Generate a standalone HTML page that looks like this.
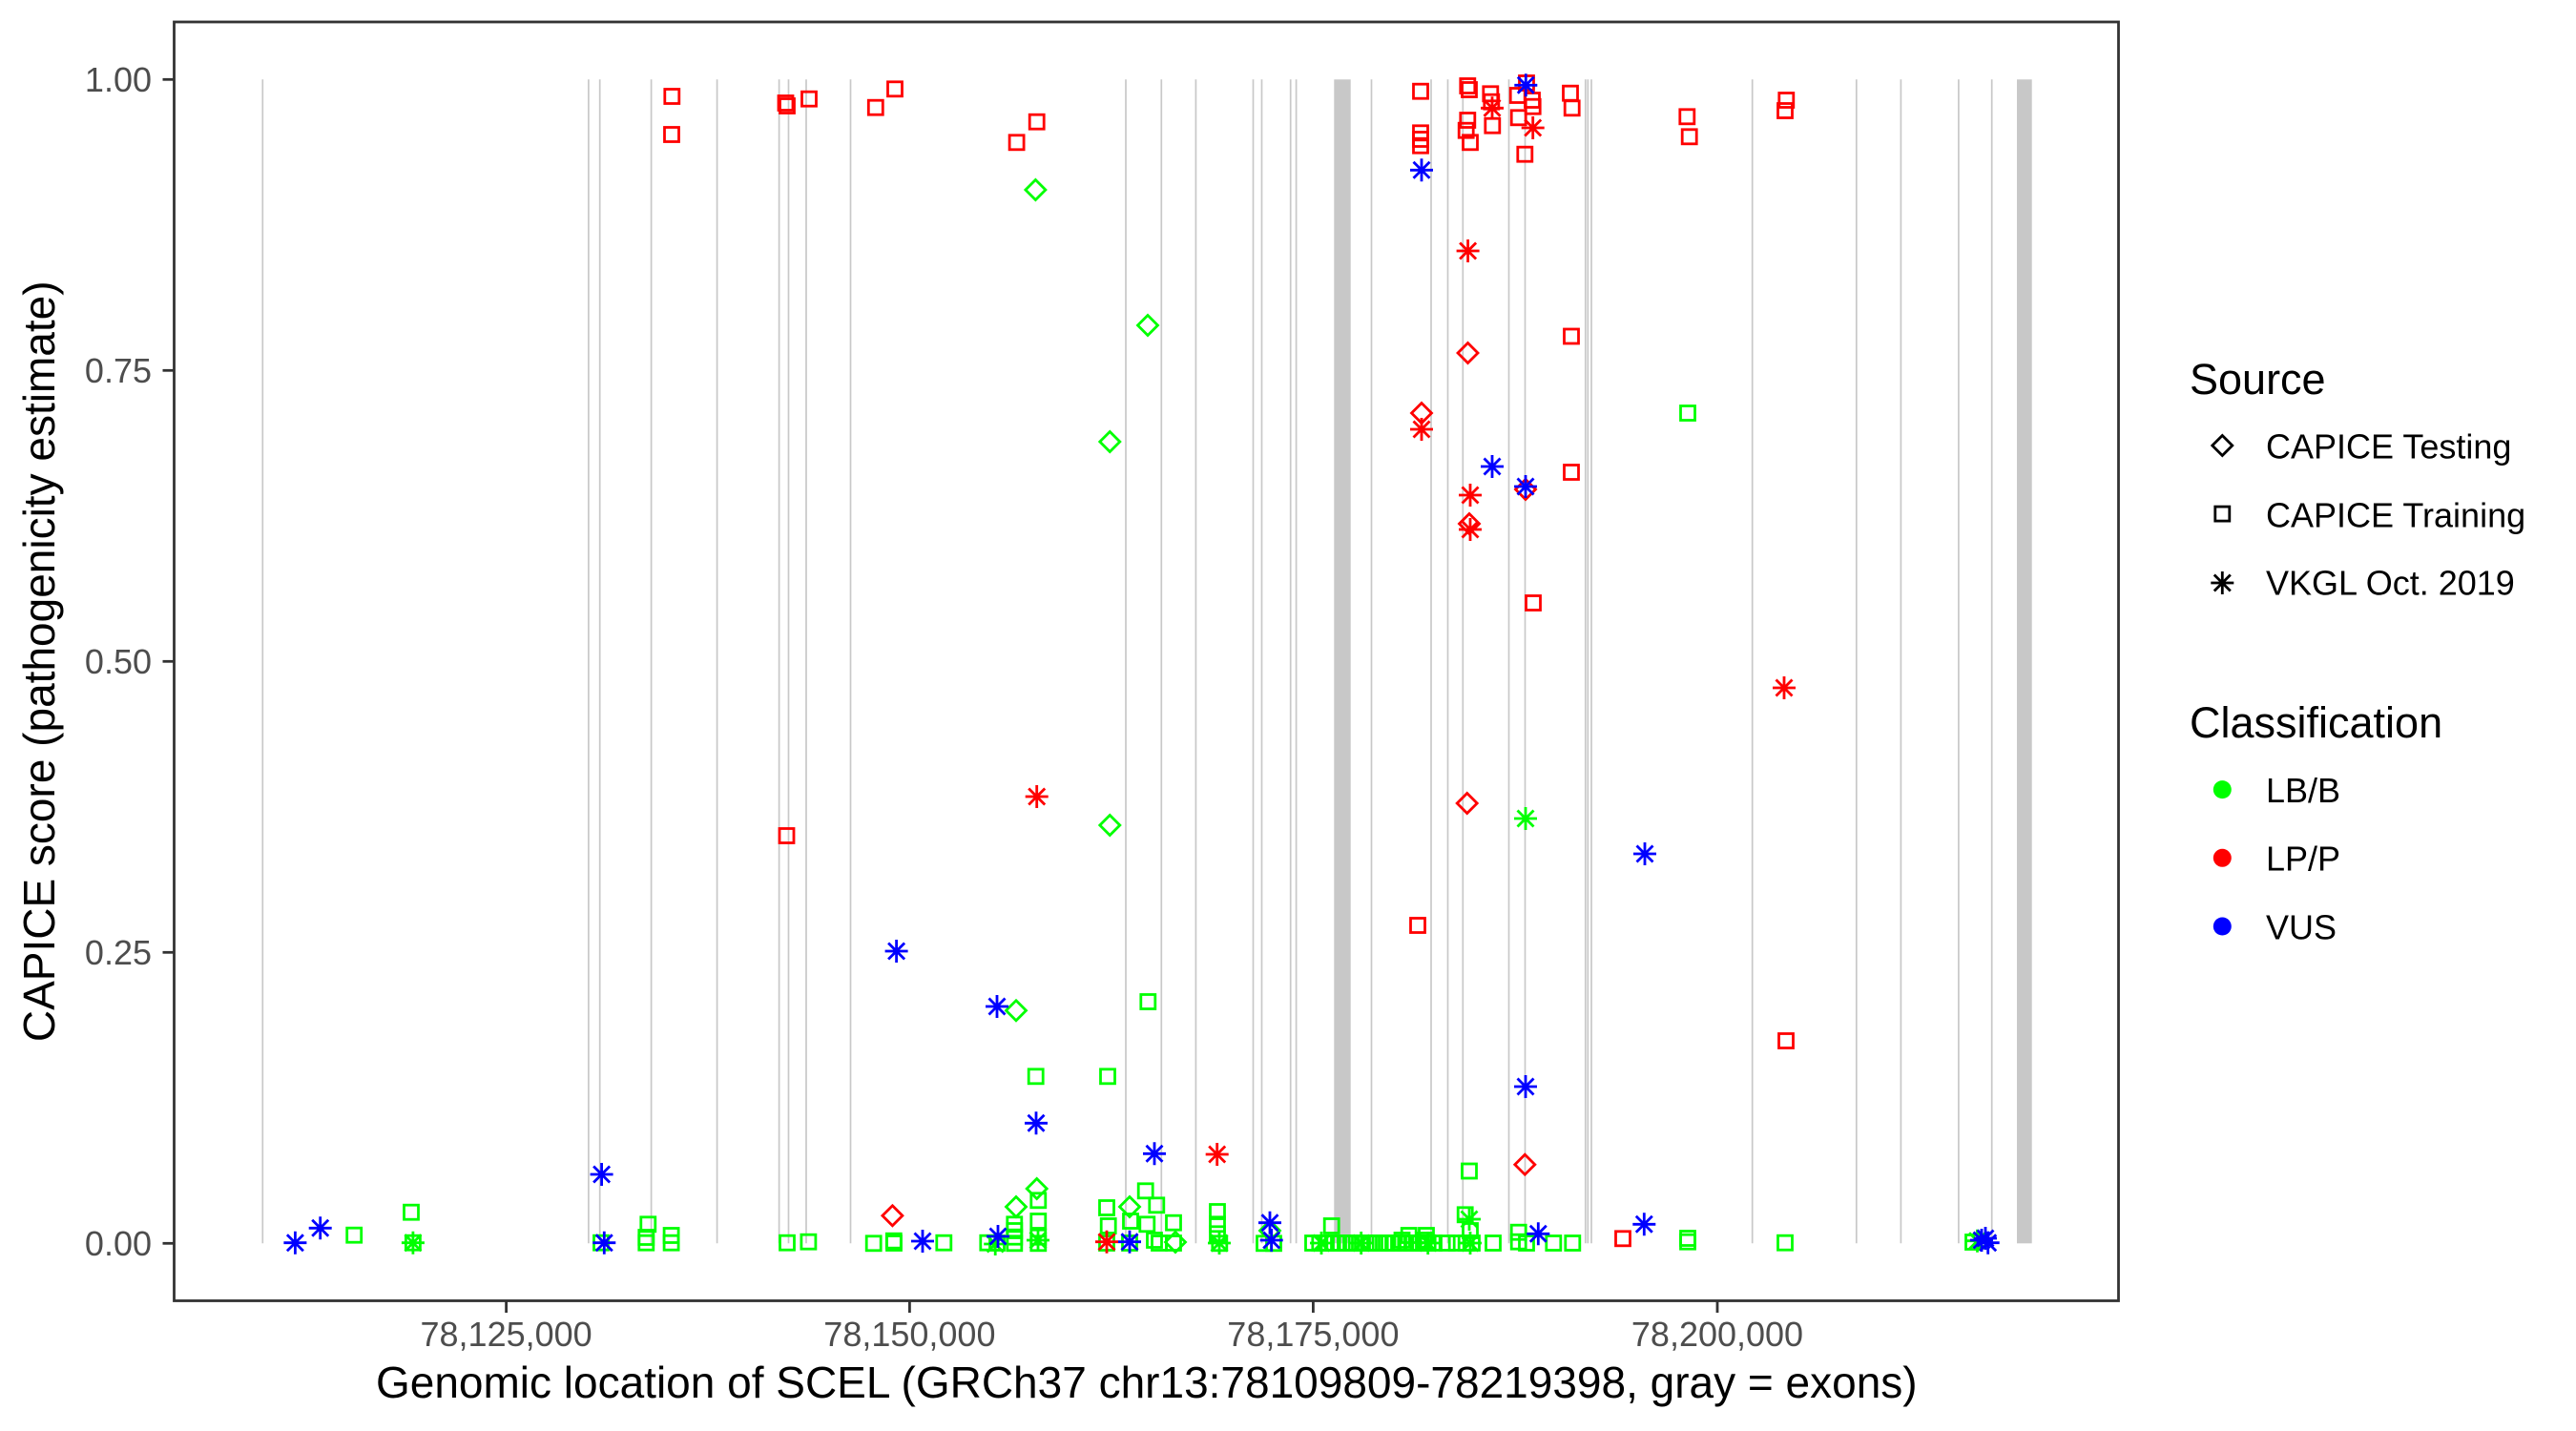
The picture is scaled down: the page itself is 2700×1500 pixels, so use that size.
<!DOCTYPE html>
<html><head><meta charset="utf-8">
<style>
html,body{margin:0;padding:0;background:#fff;}
svg{display:block;}
text{font-family:"Liberation Sans",Arial,sans-serif;}
use{fill:none;stroke-width:2.8;}
.g{stroke:#00ff00;}
.r{stroke:#ff0000;}
.b{stroke:#0000ff;}
.k{stroke:#000;}
.ex{stroke:#c8c8c8;stroke-width:1.7;}
</style></head>
<body>
<svg width="2700" height="1500" viewBox="0 0 2700 1500" xmlns="http://www.w3.org/2000/svg">
<defs>
<path id="A" d="M-12 0H12M0-12V12M-8.5-8.5L8.5 8.5M-8.5 8.5L8.5-8.5"/>
<path id="D" d="M0-10.5L10.5 0 0 10.5-10.5 0Z"/>
<rect id="S" x="-7.5" y="-7.5" width="15" height="15"/>
</defs>
<rect x="0" y="0" width="2700" height="1500" fill="#fff"/>
<g class="ex">
<line x1="275.3" y1="83.3" x2="275.3" y2="1303.3"/>
<line x1="616.9" y1="83.3" x2="616.9" y2="1303.3"/>
<line x1="628.7" y1="83.3" x2="628.7" y2="1303.3"/>
<line x1="682.6" y1="83.3" x2="682.6" y2="1303.3"/>
<line x1="751.6" y1="83.3" x2="751.6" y2="1303.3"/>
<line x1="816.6" y1="83.3" x2="816.6" y2="1303.3"/>
<line x1="826.5" y1="83.3" x2="826.5" y2="1303.3"/>
<line x1="845" y1="83.3" x2="845" y2="1303.3"/>
<line x1="891.5" y1="83.3" x2="891.5" y2="1303.3"/>
<line x1="1180" y1="83.3" x2="1180" y2="1303.3"/>
<line x1="1217.3" y1="83.3" x2="1217.3" y2="1303.3"/>
<line x1="1253.4" y1="83.3" x2="1253.4" y2="1303.3"/>
<line x1="1313.5" y1="83.3" x2="1313.5" y2="1303.3"/>
<line x1="1322.5" y1="83.3" x2="1322.5" y2="1303.3"/>
<line x1="1352.7" y1="83.3" x2="1352.7" y2="1303.3"/>
<line x1="1358.6" y1="83.3" x2="1358.6" y2="1303.3"/>
<line x1="1437.5" y1="83.3" x2="1437.5" y2="1303.3"/>
<line x1="1500" y1="83.3" x2="1500" y2="1303.3"/>
<line x1="1517.5" y1="83.3" x2="1517.5" y2="1303.3"/>
<line x1="1533.3" y1="83.3" x2="1533.3" y2="1303.3"/>
<line x1="1581.5" y1="83.3" x2="1581.5" y2="1303.3"/>
<line x1="1598.5" y1="83.3" x2="1598.5" y2="1303.3"/>
<line x1="1661.8" y1="83.3" x2="1661.8" y2="1303.3"/>
<line x1="1664.3" y1="83.3" x2="1664.3" y2="1303.3"/>
<line x1="1668" y1="83.3" x2="1668" y2="1303.3"/>
<line x1="1836.7" y1="83.3" x2="1836.7" y2="1303.3"/>
<line x1="1945.8" y1="83.3" x2="1945.8" y2="1303.3"/>
<line x1="1992.4" y1="83.3" x2="1992.4" y2="1303.3"/>
<line x1="2052.9" y1="83.3" x2="2052.9" y2="1303.3"/>
<line x1="2087.7" y1="83.3" x2="2087.7" y2="1303.3"/>
</g>
<rect x="1398.3" y="83.3" width="17.4" height="1220" fill="#c8c8c8"/>
<rect x="2114" y="83.3" width="15.7" height="1220" fill="#c8c8c8"/>
<g>
<use href="#S" class="g" x="371.2" y="1294.7"/>
<use href="#S" class="g" x="431" y="1270.7"/>
<use href="#S" class="g" x="432.9" y="1302.7"/>
<use href="#S" class="g" x="630" y="1302.7"/>
<use href="#S" class="g" x="679.3" y="1283.3"/>
<use href="#S" class="g" x="677.3" y="1297"/>
<use href="#S" class="g" x="677.3" y="1302.7"/>
<use href="#S" class="g" x="703.6" y="1295"/>
<use href="#S" class="g" x="703.6" y="1302.7"/>
<use href="#S" class="g" x="825" y="1302.7"/>
<use href="#S" class="g" x="847.4" y="1301.7"/>
<use href="#S" class="g" x="915.7" y="1303.3"/>
<use href="#S" class="g" x="936.8" y="1300.7"/>
<use href="#S" class="g" x="937" y="1303"/>
<use href="#S" class="g" x="989.3" y="1302.7"/>
<use href="#S" class="g" x="1035.3" y="1302.7"/>
<use href="#S" class="g" x="1045" y="1303"/>
<use href="#S" class="g" x="1063.3" y="1283.3"/>
<use href="#S" class="g" x="1063.3" y="1290"/>
<use href="#S" class="g" x="1063.3" y="1296.7"/>
<use href="#S" class="g" x="1063.3" y="1303.3"/>
<use href="#S" class="g" x="1088.3" y="1258.3"/>
<use href="#S" class="g" x="1088.3" y="1280"/>
<use href="#S" class="g" x="1088.3" y="1296.7"/>
<use href="#S" class="g" x="1088.3" y="1303.3"/>
<use href="#S" class="g" x="1085.7" y="1128.3"/>
<use href="#S" class="g" x="1161" y="1128.3"/>
<use href="#S" class="g" x="1203.3" y="1050"/>
<use href="#S" class="g" x="1160" y="1266"/>
<use href="#S" class="g" x="1161.7" y="1285"/>
<use href="#S" class="g" x="1160" y="1303"/>
<use href="#S" class="g" x="1185" y="1280"/>
<use href="#S" class="g" x="1184" y="1303"/>
<use href="#S" class="g" x="1200.7" y="1248.3"/>
<use href="#S" class="g" x="1212.3" y="1263.3"/>
<use href="#S" class="g" x="1202.3" y="1283.3"/>
<use href="#S" class="g" x="1230" y="1281.7"/>
<use href="#S" class="g" x="1210" y="1300"/>
<use href="#S" class="g" x="1215" y="1303"/>
<use href="#S" class="g" x="1230" y="1303"/>
<use href="#S" class="g" x="1276" y="1270"/>
<use href="#S" class="g" x="1276" y="1283.3"/>
<use href="#S" class="g" x="1276" y="1293.3"/>
<use href="#S" class="g" x="1278.3" y="1303.3"/>
<use href="#S" class="g" x="1325" y="1303.3"/>
<use href="#S" class="g" x="1335" y="1303.3"/>
<use href="#S" class="g" x="1395.7" y="1285"/>
<use href="#S" class="g" x="1376" y="1303"/>
<use href="#S" class="g" x="1383.3" y="1303"/>
<use href="#S" class="g" x="1390" y="1303"/>
<use href="#S" class="g" x="1396.7" y="1303"/>
<use href="#S" class="g" x="1403" y="1303"/>
<use href="#S" class="g" x="1410" y="1303"/>
<use href="#S" class="g" x="1416" y="1303"/>
<use href="#S" class="g" x="1421.7" y="1303"/>
<use href="#S" class="g" x="1428" y="1303"/>
<use href="#S" class="g" x="1435" y="1303"/>
<use href="#S" class="g" x="1441" y="1303"/>
<use href="#S" class="g" x="1446.7" y="1303"/>
<use href="#S" class="g" x="1453" y="1303"/>
<use href="#S" class="g" x="1460" y="1303"/>
<use href="#S" class="g" x="1466" y="1303"/>
<use href="#S" class="g" x="1473.3" y="1303"/>
<use href="#S" class="g" x="1480" y="1303"/>
<use href="#S" class="g" x="1486.7" y="1303"/>
<use href="#S" class="g" x="1492" y="1303"/>
<use href="#S" class="g" x="1496.7" y="1303"/>
<use href="#S" class="g" x="1503" y="1303"/>
<use href="#S" class="g" x="1516.7" y="1303"/>
<use href="#S" class="g" x="1526.7" y="1303"/>
<use href="#S" class="g" x="1536.7" y="1303"/>
<use href="#S" class="g" x="1543" y="1303"/>
<use href="#S" class="g" x="1565" y="1303"/>
<use href="#S" class="g" x="1591.7" y="1301.7"/>
<use href="#S" class="g" x="1600" y="1303"/>
<use href="#S" class="g" x="1628.3" y="1303"/>
<use href="#S" class="g" x="1648.3" y="1303"/>
<use href="#S" class="g" x="1476.7" y="1295"/>
<use href="#S" class="g" x="1495" y="1295"/>
<use href="#S" class="g" x="1469.5" y="1300"/>
<use href="#S" class="g" x="1492.5" y="1300"/>
<use href="#S" class="g" x="1540" y="1227.5"/>
<use href="#S" class="g" x="1535.7" y="1273.3"/>
<use href="#S" class="g" x="1541" y="1290"/>
<use href="#S" class="g" x="1591.7" y="1291.7"/>
<use href="#S" class="g" x="1769" y="1298"/>
<use href="#S" class="g" x="1769" y="1301.7"/>
<use href="#S" class="g" x="1871" y="1302.7"/>
<use href="#S" class="g" x="1769" y="433"/>
<use href="#S" class="g" x="2068" y="1302"/>
</g>
<g>
<use href="#D" class="g" x="1085.4" y="199"/>
<use href="#D" class="g" x="1203" y="341"/>
<use href="#D" class="g" x="1163.3" y="463"/>
<use href="#D" class="g" x="1163.3" y="865"/>
<use href="#D" class="g" x="1065" y="1059.3"/>
<use href="#D" class="g" x="1065" y="1265"/>
<use href="#D" class="g" x="1086.7" y="1246"/>
<use href="#D" class="g" x="1184" y="1265"/>
<use href="#D" class="g" x="1331" y="1290"/>
<use href="#D" class="g" x="1232" y="1302"/>
</g>
<g>
<use href="#A" class="g" x="432.9" y="1302.7"/>
<use href="#A" class="g" x="1043.2" y="1304"/>
<use href="#A" class="g" x="1088" y="1300"/>
<use href="#A" class="g" x="1278" y="1303"/>
<use href="#A" class="g" x="1385" y="1303"/>
<use href="#A" class="g" x="1426.7" y="1303"/>
<use href="#A" class="g" x="1496.7" y="1303"/>
<use href="#A" class="g" x="1541" y="1303"/>
<use href="#A" class="g" x="1540" y="1278"/>
<use href="#A" class="g" x="1599" y="858"/>
<use href="#A" class="g" x="2072.5" y="1300.7"/>
</g>
<g>
<use href="#S" class="r" x="704.3" y="101"/>
<use href="#S" class="r" x="704" y="141"/>
<use href="#S" class="r" x="823.5" y="108"/>
<use href="#S" class="r" x="825" y="111"/>
<use href="#S" class="r" x="848" y="103.7"/>
<use href="#S" class="r" x="917.8" y="112.7"/>
<use href="#S" class="r" x="938" y="93.3"/>
<use href="#S" class="r" x="1065.6" y="149.3"/>
<use href="#S" class="r" x="1086.7" y="127.7"/>
<use href="#S" class="r" x="824.5" y="876"/>
<use href="#S" class="r" x="1489" y="95.7"/>
<use href="#S" class="r" x="1489" y="139.3"/>
<use href="#S" class="r" x="1489" y="146"/>
<use href="#S" class="r" x="1489" y="152.7"/>
<use href="#S" class="r" x="1538.3" y="90"/>
<use href="#S" class="r" x="1540" y="94"/>
<use href="#S" class="r" x="1538.3" y="126"/>
<use href="#S" class="r" x="1536.7" y="136.7"/>
<use href="#S" class="r" x="1541" y="149.3"/>
<use href="#S" class="r" x="1562.3" y="98.3"/>
<use href="#S" class="r" x="1563.3" y="106.7"/>
<use href="#S" class="r" x="1564.3" y="131.7"/>
<use href="#S" class="r" x="1590.7" y="100"/>
<use href="#S" class="r" x="1591.7" y="123.3"/>
<use href="#S" class="r" x="1600" y="87"/>
<use href="#S" class="r" x="1606" y="105"/>
<use href="#S" class="r" x="1606.7" y="111.7"/>
<use href="#S" class="r" x="1598.3" y="161.7"/>
<use href="#S" class="r" x="1646" y="97.7"/>
<use href="#S" class="r" x="1647.7" y="113.3"/>
<use href="#S" class="r" x="1768.3" y="122.3"/>
<use href="#S" class="r" x="1770.7" y="143.3"/>
<use href="#S" class="r" x="1872.3" y="105"/>
<use href="#S" class="r" x="1871" y="116"/>
<use href="#S" class="r" x="1647" y="352.5"/>
<use href="#S" class="r" x="1647" y="495"/>
<use href="#S" class="r" x="1607" y="632"/>
<use href="#S" class="r" x="1486" y="970"/>
<use href="#S" class="r" x="1872" y="1091"/>
<use href="#S" class="r" x="1701" y="1298.3"/>
</g>
<g>
<use href="#D" class="r" x="935.4" y="1274.3"/>
<use href="#D" class="r" x="1490" y="433"/>
<use href="#D" class="r" x="1538.5" y="370"/>
<use href="#D" class="r" x="1540" y="549"/>
<use href="#D" class="r" x="1537.7" y="842"/>
<use href="#D" class="r" x="1599" y="513"/>
<use href="#D" class="r" x="1598.3" y="1220.7"/>
</g>
<g>
<use href="#A" class="r" x="1564" y="113.3"/>
<use href="#A" class="r" x="1606.7" y="134"/>
<use href="#A" class="r" x="1538.6" y="263"/>
<use href="#A" class="r" x="1490" y="450"/>
<use href="#A" class="r" x="1541" y="519"/>
<use href="#A" class="r" x="1541" y="555"/>
<use href="#A" class="r" x="1086.7" y="835"/>
<use href="#A" class="r" x="1870" y="721"/>
<use href="#A" class="r" x="1160" y="1301.7"/>
<use href="#A" class="r" x="1275.7" y="1210"/>
</g>
<g>
<use href="#A" class="b" x="1490" y="178.3"/>
<use href="#A" class="b" x="1599.3" y="89.3"/>
<use href="#A" class="b" x="1564" y="489"/>
<use href="#A" class="b" x="1599" y="510"/>
<use href="#A" class="b" x="1724" y="895"/>
<use href="#A" class="b" x="1599" y="1139"/>
<use href="#A" class="b" x="939.6" y="997"/>
<use href="#A" class="b" x="1045" y="1055"/>
<use href="#A" class="b" x="1086" y="1177.3"/>
<use href="#A" class="b" x="1210" y="1209.3"/>
<use href="#A" class="b" x="630.6" y="1231"/>
<use href="#A" class="b" x="309.4" y="1302.7"/>
<use href="#A" class="b" x="335.7" y="1287.3"/>
<use href="#A" class="b" x="633.3" y="1302.7"/>
<use href="#A" class="b" x="967" y="1301"/>
<use href="#A" class="b" x="1046" y="1296"/>
<use href="#A" class="b" x="1184" y="1301.7"/>
<use href="#A" class="b" x="1331" y="1281.7"/>
<use href="#A" class="b" x="1332.7" y="1300"/>
<use href="#A" class="b" x="1612.3" y="1293.3"/>
<use href="#A" class="b" x="1723.3" y="1283.3"/>
<use href="#A" class="b" x="2077" y="1300"/>
<use href="#A" class="b" x="2081" y="1298"/>
<use href="#A" class="b" x="2083.7" y="1302.7"/>
</g>
<rect x="182.5" y="23" width="2038" height="1340.5" fill="none" stroke="#333" stroke-width="2.8"/>
<g stroke="#333" stroke-width="2.8">
<line x1="170.5" y1="83.3" x2="182.5" y2="83.3"/>
<line x1="170.5" y1="388.3" x2="182.5" y2="388.3"/>
<line x1="170.5" y1="693.3" x2="182.5" y2="693.3"/>
<line x1="170.5" y1="998.3" x2="182.5" y2="998.3"/>
<line x1="170.5" y1="1303.3" x2="182.5" y2="1303.3"/>
<line x1="530.6" y1="1364" x2="530.6" y2="1376"/>
<line x1="953.4" y1="1364" x2="953.4" y2="1376"/>
<line x1="1376.4" y1="1364" x2="1376.4" y2="1376"/>
<line x1="1800" y1="1364" x2="1800" y2="1376"/>
</g>
<g font-size="36" fill="#4d4d4d" text-anchor="end">
<text x="159" y="96">1.00</text>
<text x="159" y="401">0.75</text>
<text x="159" y="706">0.50</text>
<text x="159" y="1011">0.25</text>
<text x="159" y="1316">0.00</text>
</g>
<g font-size="36" fill="#4d4d4d" text-anchor="middle">
<text x="530.6" y="1411">78,125,000</text>
<text x="953.4" y="1411">78,150,000</text>
<text x="1376.4" y="1411">78,175,000</text>
<text x="1800" y="1411">78,200,000</text>
</g>
<text x="1201.8" y="1465" font-size="46" fill="#000" text-anchor="middle">Genomic location of SCEL (GRCh37 chr13:78109809-78219398, gray = exons)</text>
<text transform="translate(57,693.3) rotate(-90)" font-size="46" fill="#000" text-anchor="middle">CAPICE score (pathogenicity estimate)</text>
<text x="2295" y="413" font-size="45" fill="#000">Source</text>
<use href="#D" class="k" x="2329.3" y="467"/>
<use href="#S" class="k" x="2329.3" y="538.6"/>
<use href="#A" class="k" x="2329.3" y="611"/>
<g font-size="36" fill="#000">
<text x="2375" y="480.6">CAPICE Testing</text>
<text x="2375" y="552.3">CAPICE Training</text>
<text x="2375" y="623.6">VKGL Oct. 2019</text>
</g>
<text x="2295" y="773" font-size="45" fill="#000">Classification</text>
<circle cx="2329.3" cy="827.6" r="9.5" fill="#00ff00"/>
<circle cx="2329.3" cy="899.3" r="9.5" fill="#ff0000"/>
<circle cx="2329.3" cy="971" r="9.5" fill="#0000ff"/>
<g font-size="36" fill="#000">
<text x="2375" y="841">LB/B</text>
<text x="2375" y="912.7">LP/P</text>
<text x="2375" y="984.4">VUS</text>
</g>
</svg>
</body></html>
